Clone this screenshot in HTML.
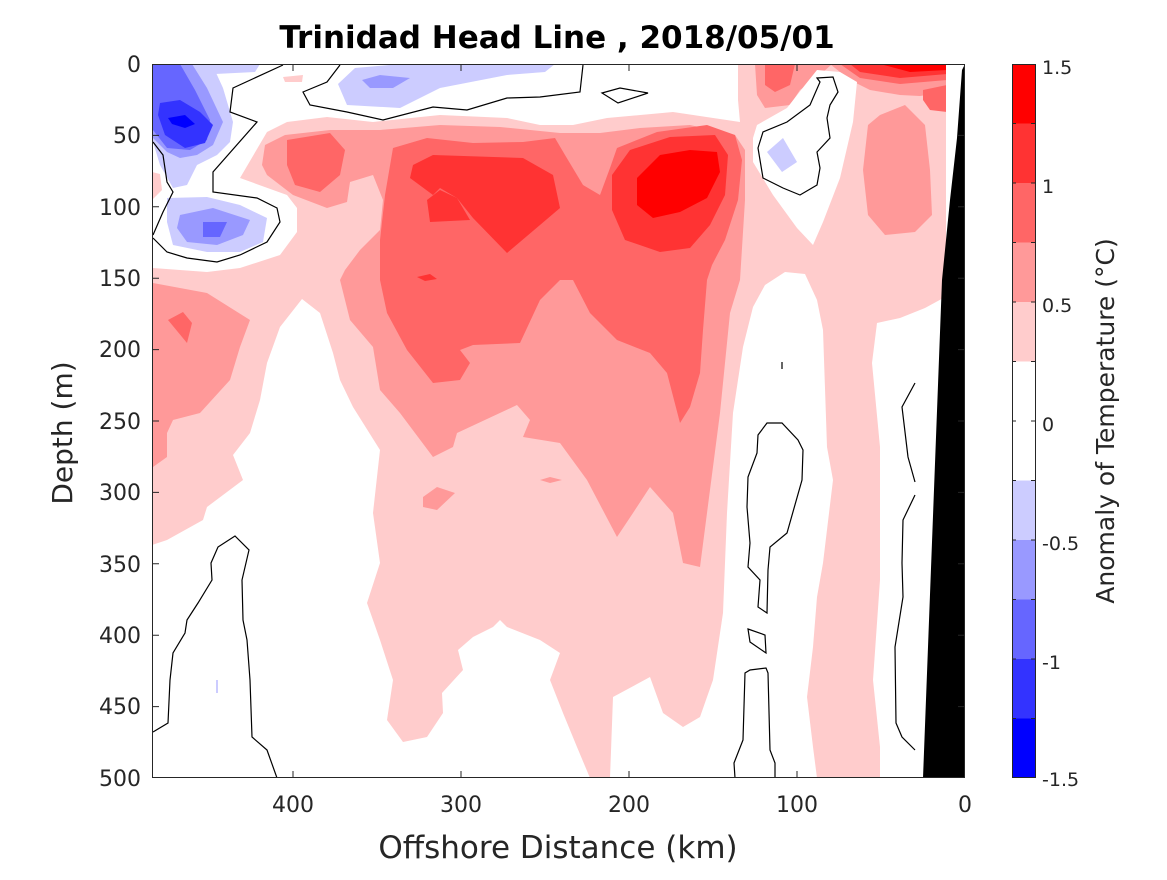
<!DOCTYPE html>
<html><head><meta charset="utf-8"><style>
html,body{margin:0;padding:0;background:#fff;}
svg text{font-family:"DejaVu Sans","Liberation Sans",sans-serif;fill:#262626;}
</style></head><body>
<svg width="1167" height="875" viewBox="0 0 1167 875" xmlns="http://www.w3.org/2000/svg">
<rect width="1167" height="875" fill="#fff"/>
<clipPath id="c"><rect x="152" y="64" width="813" height="714"/></clipPath>
<g clip-path="url(#c)">
<rect x="152" y="64" width="813" height="714" fill="#ffcccc"/>
<polygon fill="#ff9999" points="262,165 265,145 285,135 330,130 380,130 440,125 500,127 560,133 600,133 640,128 690,125 735,135 745,150 745,200 740,280 730,313 720,413 707,513 700,567 683,563 673,513 650,487 633,513 617,537 587,480 560,443 523,437 530,420 517,405 457,433 453,447 433,457 400,413 380,390 373,347 350,320 340,280 345,270 360,250 380,230 383,200 373,175 350,182 347,202 327,208 293,195 267,175"/>
<polygon fill="#ff9999" points="153,283 207,293 250,320 240,347 230,380 200,413 173,420 167,433 167,457 153,467"/>
<polygon fill="#ff9999" points="423,497 437,487 455,493 437,510 423,507"/>
<polygon fill="#ff9999" points="540,480 550,477 562,480 550,483"/>
<polygon fill="#ff9999" points="880,115 905,105 925,125 930,170 932,215 915,232 885,235 868,215 863,170 868,125"/>
<polygon fill="#ff9999" points="830,64 947,64 947,92 920,96 900,95 870,90 850,80"/>
<polygon fill="#ff9999" points="755,64 832,64 820,75 800,90 790,105 765,108 757,95"/>
<polygon fill="#ff6666" points="393,148 427,138 473,143 523,142 555,138 565,155 583,185 600,195 610,168 617,148 657,132 707,125 735,135 742,160 738,200 725,240 712,265 707,280 703,330 700,373 690,407 680,423 667,373 650,353 617,340 590,313 573,280 560,280 540,300 520,343 473,345 460,350 470,363 460,380 433,383 407,350 387,313 380,280 380,240 385,195"/>
<polygon fill="#ff6666" points="287,140 330,133 345,150 340,175 320,192 295,185 287,165"/>
<polygon fill="#ff6666" points="168,320 183,312 192,323 187,343"/>
<polygon fill="#ff6666" points="765,64 795,64 790,85 775,92 765,85"/>
<polygon fill="#ff6666" points="923,90 947,85 947,112 930,110 923,100"/>
<polygon fill="#ff6666" points="840,64 947,64 947,80 900,84 860,78"/>
<polygon fill="#ff3333" points="413,165 433,155 523,158 553,175 560,208 540,225 507,253 473,218 457,198 440,188 433,195 427,202 430,222 427,202 433,195 410,178"/>
<polygon fill="#ff3333" points="427,200 440,190 457,198 470,220 430,222"/>
<polygon fill="#ff3333" points="417,277 430,274 437,279 425,281"/>
<polygon fill="#ff3333" points="612,175 630,150 670,137 715,135 728,155 725,195 710,225 690,248 660,252 625,240 612,210"/>
<polygon fill="#ff3333" points="850,64 947,64 947,74 900,78 860,72"/>
<polygon fill="#ff0000" points="637,178 660,155 690,150 717,152 720,172 707,198 680,212 653,218 637,205"/>
<polygon fill="#ff0000" points="880,64 947,64 947,70 910,72"/>
<polygon fill="#fff" points="152,64 738,64 738,100 740,122 673,112 607,118 573,125 540,125 507,118 440,115 373,122 327,117 287,122 267,132 240,178 287,195 297,208 297,232 280,255 240,268 207,272 153,268"/>
<polygon fill="#ffcccc" points="152,172 160,174 162,190 152,200"/>
<polygon fill="#ffcccc" points="283,77 303,75 302,82 285,82"/>
<polygon fill="#fff" points="152,545 167,540 203,520 207,507 243,480 233,455 250,433 260,400 267,363 280,327 302,299 320,313 333,353 340,380 353,407 380,450 373,513 380,563 367,603 380,640 393,680 387,720 403,742 427,737 443,713 442,693 463,670 458,650 473,637 493,627 500,620 507,627 540,640 560,653 550,680 563,713 577,747 590,778 152,778"/>
<polygon fill="#fff" points="610,778 613,697 650,677 663,713 683,727 700,717 707,697 713,680 723,613 727,513 733,413 743,347 753,307 765,285 785,272 805,274 817,300 823,330 827,447 833,480 823,563 817,597 813,647 807,697 813,747 817,778"/>
<polygon fill="#fff" points="877,323 900,318 925,308 947,296 947,778 880,778 880,747 873,680 880,580 880,447 872,363"/>
<polygon fill="#fff" points="753,138 757,125 787,108 805,85 817,70 840,72 857,82 853,122 840,178 823,222 813,245 797,228 773,195 753,162"/>
<rect x="946" y="64" width="20" height="240" fill="#fff"/>
<polygon fill="#ccccff" points="152,64 212,64 223,88 233,122 230,142 217,155 197,165 187,185 173,188 160,165 153,142"/>
<polygon fill="#ccccff" points="210,64 260,64 255,72 215,74"/>
<polygon fill="#9999ff" points="152,64 192,64 207,88 223,122 213,145 197,155 180,158 167,152 153,138"/>
<polygon fill="#6666ff" points="152,64 180,64 195,90 210,120 207,140 190,150 167,148 153,130"/>
<polygon fill="#3333ff" points="160,103 180,100 200,112 213,125 205,143 185,148 165,135 158,115"/>
<polygon fill="#0000ff" points="168,118 185,115 195,124 185,128 172,124"/>
<polygon fill="#ccccff" points="167,198 207,197 240,205 267,218 263,242 240,252 207,252 173,245 167,222"/>
<polygon fill="#9999ff" points="180,215 213,208 250,220 243,235 217,245 187,242 177,228"/>
<polygon fill="#6666ff" points="203,222 227,222 220,237 203,237"/>
<polygon fill="#ccccff" points="338,84 355,68 400,64 555,64 545,72 507,75 440,88 400,108 347,105"/>
<polygon fill="#9999ff" points="362,80 380,75 410,78 393,88 370,88"/>
<polygon fill="#ccccff" points="767,152 783,138 797,162 782,172"/>
<polygon fill="#ccccff" points="216,680 218,680 218,693 216,693"/>
<g fill="none" stroke="#000" stroke-width="1.2">
<polyline points="283,65 233,88 230,112 257,122 213,172 213,192 257,198 277,208 280,222 267,242 240,255 217,262 187,258 167,252 153,238"/>
<polyline points="153,142 163,155 167,182 173,192 163,212 153,235"/>
<polyline points="340,65 327,82 303,92 310,105 347,112 383,120 433,107 467,110 507,98 540,97 580,92 583,65"/>
<polygon points="602,93 620,88 648,93 618,103"/>
<polygon points="817,78 833,77 838,92 830,105 827,118 830,138 817,152 820,168 817,185 800,195 783,188 763,178 758,148 763,132 787,122 810,105 820,82"/>
<polyline points="153,732 168,723 170,680 173,653 185,633 187,620 198,603 212,580 211,563 218,547 235,536 249,550 242,580 243,620 247,640 250,680 252,737 267,750 277,778"/>
<polygon points="767,423 782,423 798,440 803,450 802,480 787,533 770,547 768,570 767,613 758,607 760,580 748,567 750,543 747,507 748,477 757,453 758,435"/>
<polygon points="748,629 765,635 766,653 750,642"/>
<polyline points="735,778 734,763 743,740 745,673 750,670 766,668 768,673 770,750 775,763 775,778"/>
<polyline points="915,383 902,407 908,457 915,482"/>
<polyline points="915,495 903,520 902,563 903,597 895,647 896,723 902,737 915,750"/>
<line x1="782" y1="362" x2="782" y2="369"/>
</g>
<polygon fill="#000" points="965,64 962,70 957,138 950,200 942,280 923,778 965,778"/>
</g>
<g stroke="#262626" stroke-width="1" fill="none">
<rect x="152.5" y="64.5" width="812" height="713"/>
<path d="M152,135.4h7M152,206.8h7M152,278.2h7M152,349.6h7M152,421h7M152,492.4h7M152,563.8h7M152,635.2h7M152,706.6h7M958,135.4h7M958,206.8h7M958,278.2h7M958,349.6h7M958,421h7M958,492.4h7M958,563.8h7M958,635.2h7M958,706.6h7"/>
<path d="M293,778v-7M461,778v-7M629,778v-7M797,778v-7M293,64v7M461,64v7M629,64v7M797,64v7"/>
</g>
<g font-size="22" text-anchor="end">
<text x="141" y="72">0</text><text x="141" y="143">50</text><text x="141" y="215">100</text><text x="141" y="286">150</text><text x="141" y="357">200</text><text x="141" y="429">250</text><text x="141" y="500">300</text><text x="141" y="572">350</text><text x="141" y="643">400</text><text x="141" y="714">450</text><text x="141" y="786">500</text>
</g>
<g font-size="22" text-anchor="middle">
<text x="293" y="812">400</text><text x="461" y="812">300</text><text x="629" y="812">200</text><text x="797" y="812">100</text><text x="965" y="812">0</text>
</g>
<text x="558" y="858" font-size="31" text-anchor="middle">Offshore Distance (km)</text>
<text transform="translate(72,433) rotate(-90)" font-size="28" text-anchor="middle">Depth (m)</text>
<text x="557" y="48" font-size="31" font-weight="bold" text-anchor="middle" style="fill:#000">Trinidad Head Line , 2018/05/01</text>
<g>
<rect x="1012" y="64" width="23" height="60" fill="#ff0000"/>
<rect x="1012" y="123.5" width="23" height="60" fill="#ff3333"/>
<rect x="1012" y="183" width="23" height="60" fill="#ff6666"/>
<rect x="1012" y="242.5" width="23" height="60" fill="#ff9999"/>
<rect x="1012" y="302" width="23" height="60" fill="#ffcccc"/>
<rect x="1012" y="361.5" width="23" height="119" fill="#ffffff"/>
<rect x="1012" y="480.5" width="23" height="60" fill="#ccccff"/>
<rect x="1012" y="540" width="23" height="60" fill="#9999ff"/>
<rect x="1012" y="599.5" width="23" height="60" fill="#6666ff"/>
<rect x="1012" y="659" width="23" height="60" fill="#3333ff"/>
<rect x="1012" y="718.5" width="23" height="59.5" fill="#0000ff"/>
<rect x="1012.5" y="64.5" width="23" height="713" fill="none" stroke="#262626"/>
<path stroke="#262626" d="M1012,123.5h4M1012,183h4M1012,242.5h4M1012,302h4M1012,361.5h4M1012,421h4M1012,480.5h4M1012,540h4M1012,599.5h4M1012,659h4M1012,718.5h4M1031,123.5h4M1031,183h4M1031,242.5h4M1031,302h4M1031,361.5h4M1031,421h4M1031,480.5h4M1031,540h4M1031,599.5h4M1031,659h4M1031,718.5h4"/>
</g>
<g font-size="19">
<text x="1042" y="74">1.5</text><text x="1042" y="193">1</text><text x="1042" y="312">0.5</text><text x="1042" y="431">0</text><text x="1042" y="550">-0.5</text><text x="1042" y="669">-1</text><text x="1042" y="786">-1.5</text>
</g>
<text transform="translate(1114,421) rotate(-90)" font-size="25" text-anchor="middle">Anomaly of Temperature (°C)</text>
</svg>
</body></html>
